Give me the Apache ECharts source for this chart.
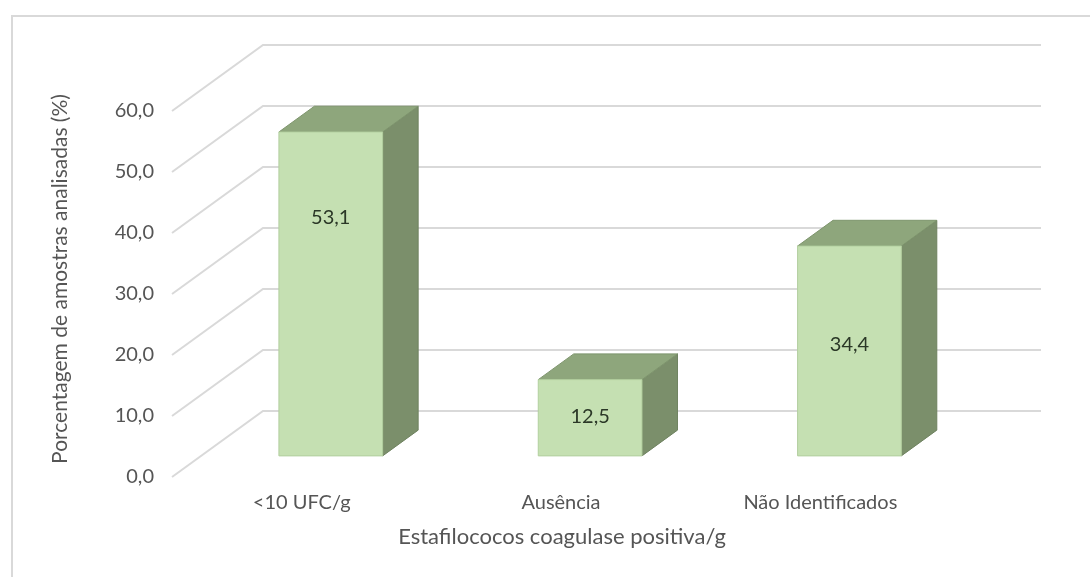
<!DOCTYPE html>
<html lang="pt">
<head>
<meta charset="UTF-8">
<title>Estafilococos coagulase positiva/g</title>
<style>
  html, body { margin: 0; padding: 0; background: #fff; }
  #chart { width: 1090px; height: 577px; }
</style>
</head>
<body>
<div id="chart"></div>
<script src="https://cdn.jsdelivr.net/npm/echarts@6/dist/echarts.min.js"></script>
<script>
var categories = ['<10 UFC/g', 'Ausência', 'Não Identificados'];
var values = [53.1, 12.5, 34.4];
var yTicks = [0, 10, 20, 30, 40, 50, 60];

// oblique depth of the floor / walls (px) and where the bars sit in depth
var DX = 91, DY = 66;
var Z0 = 0.32, Z1 = 0.71;
var labelAt = [0.735, 0.51, 0.53]; // where the value sits on each front face
var FONT = 'Lato, "Liberation Sans", sans-serif';
var GREY = '#555555';

function fmt(v) { return v.toFixed(1).replace('.', ','); }

var chart = echarts.init(document.getElementById('chart'));

chart.setOption({
  backgroundColor: '#fff',
  animation: false,
  grid: { left: 172, right: 140, top: 111, bottom: 100 },
  xAxis: {
    type: 'category',
    data: categories,
    axisLine: { show: false },
    axisTick: { show: false },
    axisLabel: { margin: 16, color: GREY, fontSize: 20, fontFamily: FONT }
  },
  yAxis: {
    type: 'value',
    min: 0, max: 60, interval: 10,
    splitLine: { show: false },
    axisLine: { show: false },
    axisTick: { show: false },
    axisLabel: { margin: 18, color: GREY, fontSize: 20, fontFamily: FONT, formatter: fmt }
  },
  graphic: [
    { type: 'rect', shape: { x: 12, y: 16, width: 1100, height: 600 },
      style: { fill: null, stroke: '#d9d9d9', lineWidth: 2 }, silent: true },
    { type: 'text', x: 60, y: 279, rotation: Math.PI / 2,
      style: { text: 'Porcentagem de amostras analisadas (%)', fill: GREY,
               font: '21px ' + FONT, align: 'center', verticalAlign: 'middle' } },
    { type: 'text', x: 562, y: 537,
      style: { text: 'Estafilococos coagulase positiva/g', fill: GREY,
               font: '22px ' + FONT, align: 'center', verticalAlign: 'middle' } }
  ],
  series: [
    {
      // back-wall gridlines with their slanted floor part
      type: 'custom',
      z: 1,
      silent: true,
      data: yTicks.map(function (t) { return [0, t]; }),
      renderItem: function (params, api) {
        var cs = params.coordSys;
        var y = api.coord([0, api.value(1)])[1];
        var x0 = cs.x;
        return {
          type: 'polyline',
          shape: { points: [[x0, y], [x0 + DX, y - DY], [x0 + cs.width + DX, y - DY]] },
          style: { stroke: '#d9d9d9', lineWidth: 2, fill: null }
        };
      }
    },
    {
      type: 'custom',
      z: 2,
      data: values.map(function (v, i) { return [i, v]; }),
      renderItem: function (params, api) {
        var i = api.value(0);
        var base = api.coord([i, 0]);
        var top = api.coord([i, api.value(1)]);
        var bw = api.size([1, 0])[0] * 0.4;
        var fx = base[0] - bw / 2 + Z0 * DX;
        var fy0 = base[1] - Z0 * DY;
        var fy1 = top[1] - Z0 * DY;
        var ddx = (Z1 - Z0) * DX, ddy = (Z1 - Z0) * DY;
        var ly = fy0 - (fy0 - fy1) * labelAt[i];
        return {
          type: 'group',
          children: [
            { type: 'polygon',
              shape: { points: [[fx + bw, fy1], [fx + bw + ddx, fy1 - ddy], [fx + bw + ddx, fy0 - ddy], [fx + bw, fy0]] },
              style: { fill: '#7b8f6b', stroke: '#6f8260', lineWidth: 1 } },
            { type: 'polygon',
              shape: { points: [[fx, fy1], [fx + bw, fy1], [fx + bw + ddx, fy1 - ddy], [fx + ddx, fy1 - ddy]] },
              style: { fill: '#8ea67c', stroke: '#7e956d', lineWidth: 1 } },
            { type: 'rect',
              shape: { x: fx, y: fy1, width: bw, height: fy0 - fy1 },
              style: { fill: '#c5e0b2', stroke: '#b3cf9f', lineWidth: 1 } },
            { type: 'text',
              style: { x: fx + bw / 2, y: ly, text: fmt(api.value(1)), fill: '#2b3827',
                       font: '20px ' + FONT, align: 'center', verticalAlign: 'middle' } }
          ]
        };
      }
    }
  ]
});
</script>
</body>
</html>
